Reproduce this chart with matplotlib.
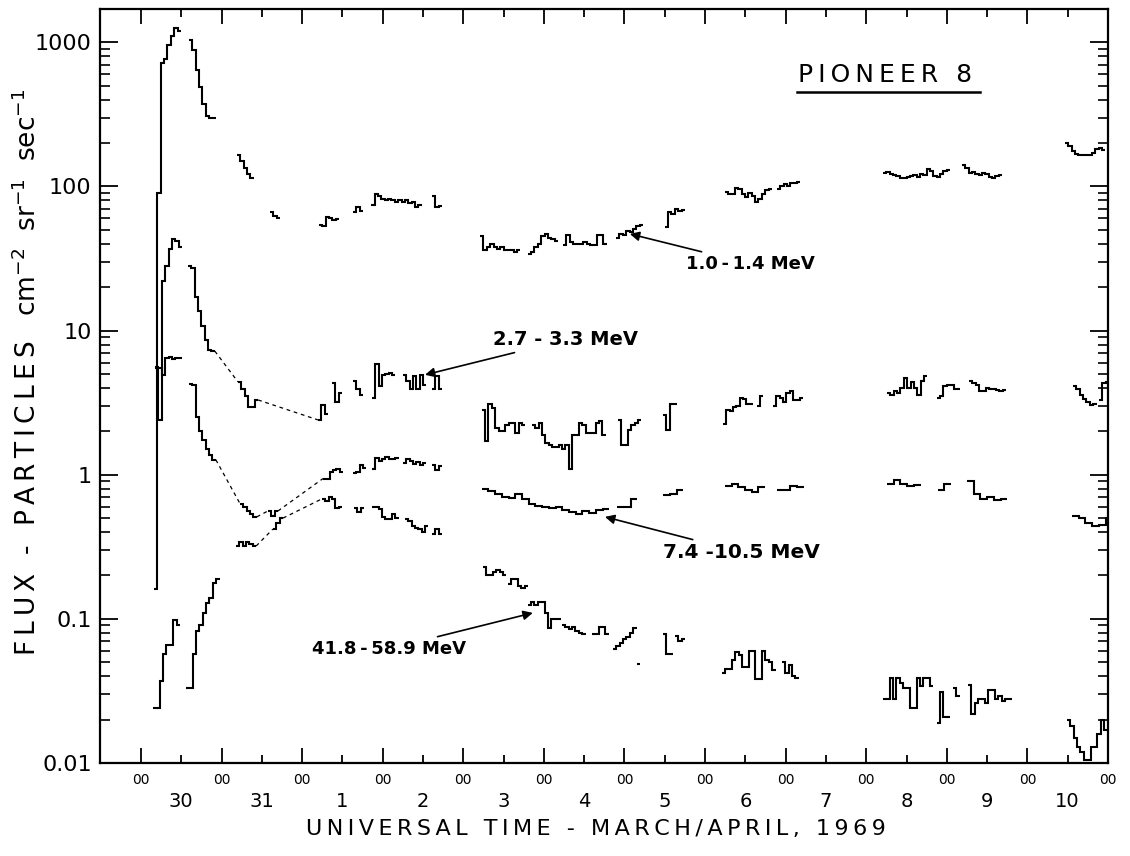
import matplotlib
matplotlib.use('Agg')
import matplotlib.pyplot as plt
from matplotlib.ticker import FixedLocator, FixedFormatter, LogLocator, NullFormatter
import numpy as np

# time in hours after 00 UT, 30 March 1969
# each segment: (start hour, step in hours, flux values)
FLUX_1_0 = [
    (3.9, 1, [0.16, 90, 720, 760, 950, 1100, 1260, 1200]),
    (14.3, 1, [1030, 880, 640, 490, 370, 310, 300, 300]),
    (28.6, 1, [165, 150, 135, 122, 115]),
    (38.4, 1, [66, 62, 60]),
    (53.0, 1, [54, 53, 61, 60, 58, 59]),
    (63.1, 1, [66, 72, 68]),
    (68.6, 1, [74, 88, 86, 82, 80, 82, 80, 78, 80, 78, 80, 77, 78, 72, 74]),
    (86.7, 1, [86, 72, 73]),
    (101.0, 1, [45, 36, 38, 40, 38, 37, 38, 36, 36, 36, 35, 36]),
    (115.2, 1, [34, 35, 38, 40, 45, 47, 44, 43, 42]),
    (125.7, 1, [39, 46, 41, 40, 40, 40, 41, 40, 39, 39, 46, 46, 40]),
    (141.5, 1, [44, 47, 46, 49, 48, 51, 53, 54]),
    (156.0, 1, [52, 66, 64, 70, 67, 69]),
    (173.9, 1, [92, 88, 88, 98, 96, 88, 85, 90, 86, 78, 82, 88, 94, 96]),
    (189.4, 1, [96, 100, 104, 100, 106, 106, 107]),
    (221.0, 1, [124, 126, 122, 120, 118, 115, 114, 116, 118, 120, 116, 122, 120, 132, 128, 118, 116, 122, 128, 130]),
    (244.5, 1, [140, 134, 124, 126, 122, 120, 124, 122, 116, 115, 118, 120]),
    (275.2, 1, [200, 190, 175, 168, 165, 164, 166, 165, 170, 182, 184, 180]),
]
BRIDGES_1_0 = []

FLUX_2_7 = [
    (4.2, 1, [5.6, 2.4, 22, 28, 37, 43, 42, 38]),
    (14.0, 1, [28, 27, 17, 13.7, 10.8, 8.6, 7.3, 7.2]),
    (28.9, 1, [4.4, 3.9, 3.5, 2.95, 2.95, 3.3]),
    (52.7, 1, [2.4, 3.05, 2.65]),
    (56.9, 1, [4.3, 3.2, 3.7]),
    (63.1, 1, [4.5, 3.9, 3.6]),
    (68.8, 1, [3.4, 5.9, 4.1, 4.9, 5.0, 5.1, 4.9]),
    (78.0, 1, [4.9, 4.5, 3.9, 4.8, 3.9, 4.9, 4.2]),
    (86.7, 1, [3.9, 4.8, 3.9]),
    (101.5, 1, [2.8, 1.7, 3.1, 2.9, 2.1, 2.0, 2.0, 2.2, 2.3, 2.3, 1.95, 2.3, 2.2]),
    (116.4, 1, [2.2, 2.1, 2.3, 1.9, 1.65, 1.6, 1.55, 1.55, 1.6, 1.5, 1.6, 1.1, 1.9, 1.9, 2.3, 2.2, 1.95, 1.95, 1.95, 2.3, 2.35, 1.9]),
    (142.0, 1, [2.4, 1.6, 1.6, 2.05, 2.2, 2.3, 2.4]),
    (155.5, 1, [2.6, 2.05, 3.1, 3.1]),
    (173.3, 1, [2.25, 2.8, 2.75, 2.95, 3.0, 3.4, 3.35, 3.1, 3.1]),
    (183.4, 1, [3.0, 3.5]),
    (188.2, 1, [3.0, 3.5, 3.4, 3.2, 3.7, 3.8, 3.3, 3.3, 3.4]),
    (222.2, 1, [3.7, 3.6, 3.8, 3.7, 4.0, 4.7, 4.0, 4.4, 4.0, 3.6, 4.5, 4.8]),
    (237.0, 1, [3.4, 3.5, 4.1, 4.2, 4.2, 3.9, 3.9]),
    (246.6, 1, [4.5, 4.3, 4.2, 3.8, 3.8, 4.0, 3.9, 3.95, 3.85, 3.8, 3.85]),
    (277.6, 1, [4.1, 3.9, 3.6, 3.35, 3.2, 3.05, 3.1]),
    (285.3, 1, [3.3, 4.3, 4.4]),
]
BRIDGES_2_7 = [1, 2]

FLUX_7_4 = [
    (4.2, 1, [5.5, 5.5, 4.9, 6.4, 6.6, 6.3, 6.4, 6.4]),
    (14.3, 1, [4.25, 4.2, 2.5, 2.0, 1.75, 1.5, 1.37, 1.27]),
    (29.5, 1, [0.63, 0.6, 0.56, 0.53, 0.51]),
    (37.8, 1, [0.56, 0.52, 0.56]),
    (54.2, 1, [0.94, 0.93, 1.05, 1.08, 1.1, 1.05]),
    (63.1, 1, [1.02, 1.05, 1.17, 1.12]),
    (68.8, 1, [1.1, 1.31, 1.25, 1.28, 1.32, 1.29, 1.28, 1.3]),
    (78.0, 1, [1.2, 1.28, 1.25, 1.18, 1.22, 1.17, 1.2]),
    (86.7, 1, [1.17, 1.08, 1.15]),
    (101.5, 2, [0.8, 0.77, 0.74, 0.7, 0.69, 0.74, 0.68, 0.63, 0.61, 0.6, 0.59, 0.6, 0.57, 0.55, 0.53, 0.56, 0.54, 0.57, 0.58]),
    (141.8, 2, [0.6, 0.6, 0.68]),
    (155.5, 2, [0.72, 0.74, 0.78]),
    (173.9, 2, [0.84, 0.86, 0.82, 0.78, 0.76, 0.82]),
    (189.4, 2, [0.78, 0.78, 0.84, 0.82]),
    (222.2, 2, [0.86, 0.92, 0.86, 0.84, 0.85]),
    (237.3, 2, [0.78, 0.86]),
    (246.0, 2, [0.9, 0.74, 0.68, 0.7, 0.67, 0.68]),
    (277.3, 2, [0.52, 0.5, 0.46, 0.44, 0.45, 0.5]),
]
BRIDGES_7_4 = [1, 2, 3]

FLUX_41_8 = [
    (3.6, 1, [0.024, 0.024, 0.037, 0.057, 0.066, 0.066, 0.098, 0.09]),
    (13.4, 1, [0.033, 0.033, 0.057, 0.082, 0.091, 0.11, 0.128, 0.14, 0.176, 0.19]),
    (28.3, 1, [0.32, 0.34, 0.32, 0.34, 0.33, 0.32]),
    (39.3, 1, [0.42, 0.46, 0.5]),
    (53.9, 1, [0.68, 0.66, 0.7, 0.68, 0.59, 0.6]),
    (63.4, 1, [0.59, 0.55, 0.59]),
    (68.8, 1, [0.6, 0.6, 0.58, 0.51, 0.49, 0.49, 0.53, 0.5]),
    (78.6, 1, [0.49, 0.48, 0.44, 0.43, 0.42, 0.4, 0.44]),
    (86.7, 1, [0.39, 0.42, 0.39]),
    (101.8, 1, [0.23, 0.2, 0.2, 0.21, 0.22, 0.21, 0.2]),
    (109.3, 1, [0.175, 0.19, 0.19, 0.17, 0.165, 0.17]),
    (115.2, 1, [0.125, 0.13, 0.125, 0.13, 0.13, 0.11, 0.087, 0.1, 0.1, 0.1]),
    (125.4, 1, [0.09, 0.088, 0.085, 0.088, 0.082, 0.08, 0.079]),
    (134.3, 1, [0.078, 0.078, 0.088, 0.088, 0.079]),
    (140.6, 1, [0.062, 0.065, 0.068, 0.072, 0.075, 0.08, 0.087]),
    (147.7, 1, [0.049]),
    (155.5, 1, [0.078, 0.057, 0.057]),
    (159.0, 1, [0.076, 0.07, 0.072]),
    (173.0, 1, [0.042, 0.045, 0.045, 0.052, 0.059, 0.056, 0.046, 0.046, 0.06, 0.06, 0.038, 0.038, 0.06, 0.052, 0.05, 0.044]),
    (190.9, 1, [0.05, 0.042, 0.048, 0.04, 0.039]),
    (221.0, 1, [0.028, 0.028, 0.039, 0.028, 0.039, 0.036, 0.033, 0.033, 0.024, 0.024, 0.039, 0.034, 0.039, 0.039, 0.034]),
    (237.0, 1, [0.019, 0.031, 0.021, 0.021]),
    (241.8, 1, [0.033, 0.029]),
    (246.3, 1, [0.035, 0.022, 0.026, 0.028, 0.028, 0.026, 0.032, 0.032, 0.028, 0.029, 0.027, 0.028, 0.028]),
    (275.8, 1, [0.02, 0.018, 0.015, 0.013, 0.012, 0.0105, 0.0105, 0.013, 0.013, 0.016, 0.02, 0.017]),
]
BRIDGES_41_8 = [2, 3]

DAY_NAMES = ['30', '31', '1', '2', '3', '4', '5', '6', '7', '8', '9', '10']
Y_TICKS = [0.01, 0.1, 1, 10, 100, 1000]
Y_TICK_LABELS = ['0.01', '0.1', '1', '10', '100', '1000']


def spaced(s):
    # open lettering, like the hand-stencilled original
    return '\u2009'.join(s)


def draw_series(ax, segments, bridges):
    for t0, dt, vals in segments:
        edges = t0 + dt * np.arange(len(vals) + 1)
        ax.stairs(vals, edges, baseline=None, color='black', lw=1.5)
    # dashed connections across data gaps
    for i in bridges:
        t0, dt, vals = segments[i]
        t1, _, nxt = segments[i + 1]
        ax.plot([t0 + dt * len(vals), t1], [vals[-1], nxt[0]],
                color='black', lw=0.9, ls=(0, (3, 3)))


def main():
    plt.rcParams['font.family'] = 'DejaVu Sans'
    fig = plt.figure(figsize=(11.3, 8.56), dpi=100)
    ax = fig.add_axes([0.0885, 0.1086, 0.892, 0.8809])

    draw_series(ax, FLUX_1_0, BRIDGES_1_0)
    draw_series(ax, FLUX_2_7, BRIDGES_2_7)
    draw_series(ax, FLUX_7_4, BRIDGES_7_4)
    draw_series(ax, FLUX_41_8, BRIDGES_41_8)

    ax.set_yscale('log')
    ax.set_xlim(-12.2, 288)
    ax.set_ylim(0.01, 1700)

    ax.yaxis.set_major_locator(FixedLocator(Y_TICKS))
    ax.yaxis.set_major_formatter(FixedFormatter(Y_TICK_LABELS))
    ax.yaxis.set_minor_locator(LogLocator(base=10, subs=range(2, 10)))
    ax.yaxis.set_minor_formatter(NullFormatter())

    ax.set_xticks(np.arange(0, 289, 24))
    ax.set_xticklabels(['00'] * 13)
    ax.set_xticks(np.arange(12, 288, 24), minor=True)
    ax.set_xticklabels(DAY_NAMES, minor=True)

    ax.tick_params(axis='x', which='major', direction='in', length=11, width=1.3,
                   top=True, labelsize=10, pad=7)
    ax.tick_params(axis='x', which='minor', direction='in', length=6, width=1.3,
                   top=True, labelsize=14, pad=21)
    ax.tick_params(axis='y', which='major', direction='in', length=13, width=1.3,
                   right=True, labelsize=16, pad=6)
    ax.tick_params(axis='y', which='minor', direction='in', length=7, width=1.2,
                   right=True)
    for sp in ax.spines.values():
        sp.set_linewidth(1.6)

    arrow = dict(arrowstyle='-|>', color='black', lw=1.2, mutation_scale=14,
                 shrinkA=1, shrinkB=0)
    ax.annotate('1.0\u2009-\u20091.4 MeV', xy=(145.6, 46.8), xytext=(162.3, 29.0),
                fontsize=13, fontweight='bold', ha='left', va='center', arrowprops=arrow)
    ax.annotate('2.7 - 3.3 MeV', xy=(84.6, 4.93), xytext=(104.8, 8.6),
                fontsize=14, fontweight='bold', ha='left', va='center', arrowprops=arrow)
    ax.annotate('7.4 -10.5 MeV', xy=(138.2, 0.51), xytext=(155.5, 0.29),
                fontsize=14.5, fontweight='bold', ha='left', va='center', arrowprops=arrow)
    ax.annotate('41.8\u2009-\u200958.9 MeV', xy=(116.7, 0.11), xytext=(96.8, 0.062),
                fontsize=13, fontweight='bold', ha='right', va='center', arrowprops=arrow)

    ax.text(0.779, 0.9125, spaced('PIONEER 8'), transform=ax.transAxes, fontsize=18,
            ha='center', va='center')
    ax.plot([0.691, 0.873], [0.89, 0.89], transform=ax.transAxes, color='black', lw=1.8)

    fig.text(596 / 1130, 1 - 829 / 856, spaced('UNIVERSAL TIME - MARCH/APRIL, 1969'),
             fontsize=16, ha='center', va='center')
    fig.text(28 / 1130, 1 - 372 / 856,
             spaced('FLUX - PARTICLES') + r'   cm$^{-2}$  sr$^{-1}$  sec$^{-1}$',
             fontsize=19, rotation=90, ha='center', va='center')

    fig.savefig('out.png', dpi=100)


main()
